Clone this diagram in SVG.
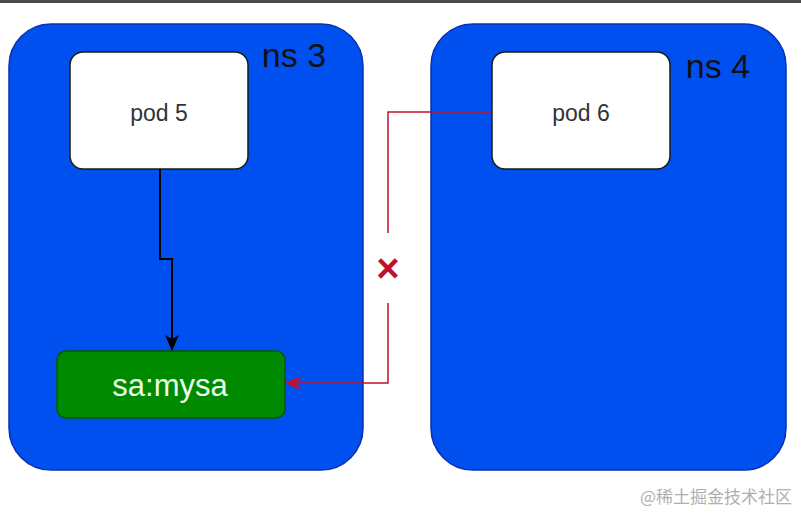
<svg xmlns="http://www.w3.org/2000/svg" width="801" height="517" viewBox="0 0 801 517">
<defs>
<style>
.ns{fill:#0050ef;stroke:#0a2fb0;stroke-width:1.5}
.pod{fill:#ffffff;stroke:#1a1a1a;stroke-width:1.5}
.sa{fill:#008a00;stroke:#005700;stroke-width:1.5}
.t{font-family:"Liberation Sans",Arial,sans-serif}
</style>
<marker id="ab" markerWidth="16" markerHeight="16" viewBox="0 0 16 16" refX="15" refY="8" orient="auto" markerUnits="userSpaceOnUse"><path d="M0,1 L16,8 L0,15 L4,8 Z" fill="#000"/></marker>
<marker id="ar" markerWidth="16" markerHeight="16" viewBox="0 0 16 16" refX="15" refY="8" orient="auto" markerUnits="userSpaceOnUse"><path d="M0,1 L16,8 L0,15 L4,8 Z" fill="#c0102a"/></marker>
</defs>
<rect x="0" y="0" width="801" height="517" fill="#ffffff"/>
<rect x="0" y="0" width="801" height="3" fill="#4a4a4a"/>
<g id="ns3">
<rect class="ns" x="9" y="24" width="354" height="446" rx="42"/>
<text class="t" x="294" y="67" font-size="34" text-anchor="middle" fill="#111">ns 3</text>
</g>
<g id="ns4">
<rect class="ns" x="431" y="24" width="355" height="446" rx="42"/>
<text class="t" x="718" y="78" font-size="34" text-anchor="middle" fill="#111">ns 4</text>
</g>
<g id="pod5">
<rect class="pod" x="70" y="52" width="178" height="117" rx="13"/>
<text class="t" x="159" y="121" font-size="23" text-anchor="middle" fill="#333">pod 5</text>
</g>
<g id="pod6">
<rect class="pod" x="492" y="52" width="178" height="117" rx="13"/>
<text class="t" x="581" y="121" font-size="23" text-anchor="middle" fill="#333">pod 6</text>
</g>
<g id="sa">
<rect class="sa" x="57" y="351" width="228" height="67" rx="9"/>
<text class="t" x="170" y="396" font-size="31" text-anchor="middle" fill="#eaffea">sa:mysa</text>
</g>
<g id="connectors" fill="none">
<path d="M160,169 L160,259 L172,259 L172,350" stroke="#000" stroke-width="2" marker-end="url(#ab)"/>
<path d="M492,112 L388,112 L388,233" stroke="#c0102a" stroke-width="1.5"/>
<path d="M388,303 L388,383 L286,383" stroke="#c0102a" stroke-width="1.5" marker-end="url(#ar)"/>
<text class="t" x="388" y="282" font-size="40" font-weight="bold" text-anchor="middle" fill="#c0102a">×</text>
</g>
<text x="792" y="503" font-size="17" text-anchor="end" fill="#b0b0b0" font-family="'Noto Sans CJK SC','Liberation Sans',sans-serif">@稀土掘金技术社区</text>
</svg>
